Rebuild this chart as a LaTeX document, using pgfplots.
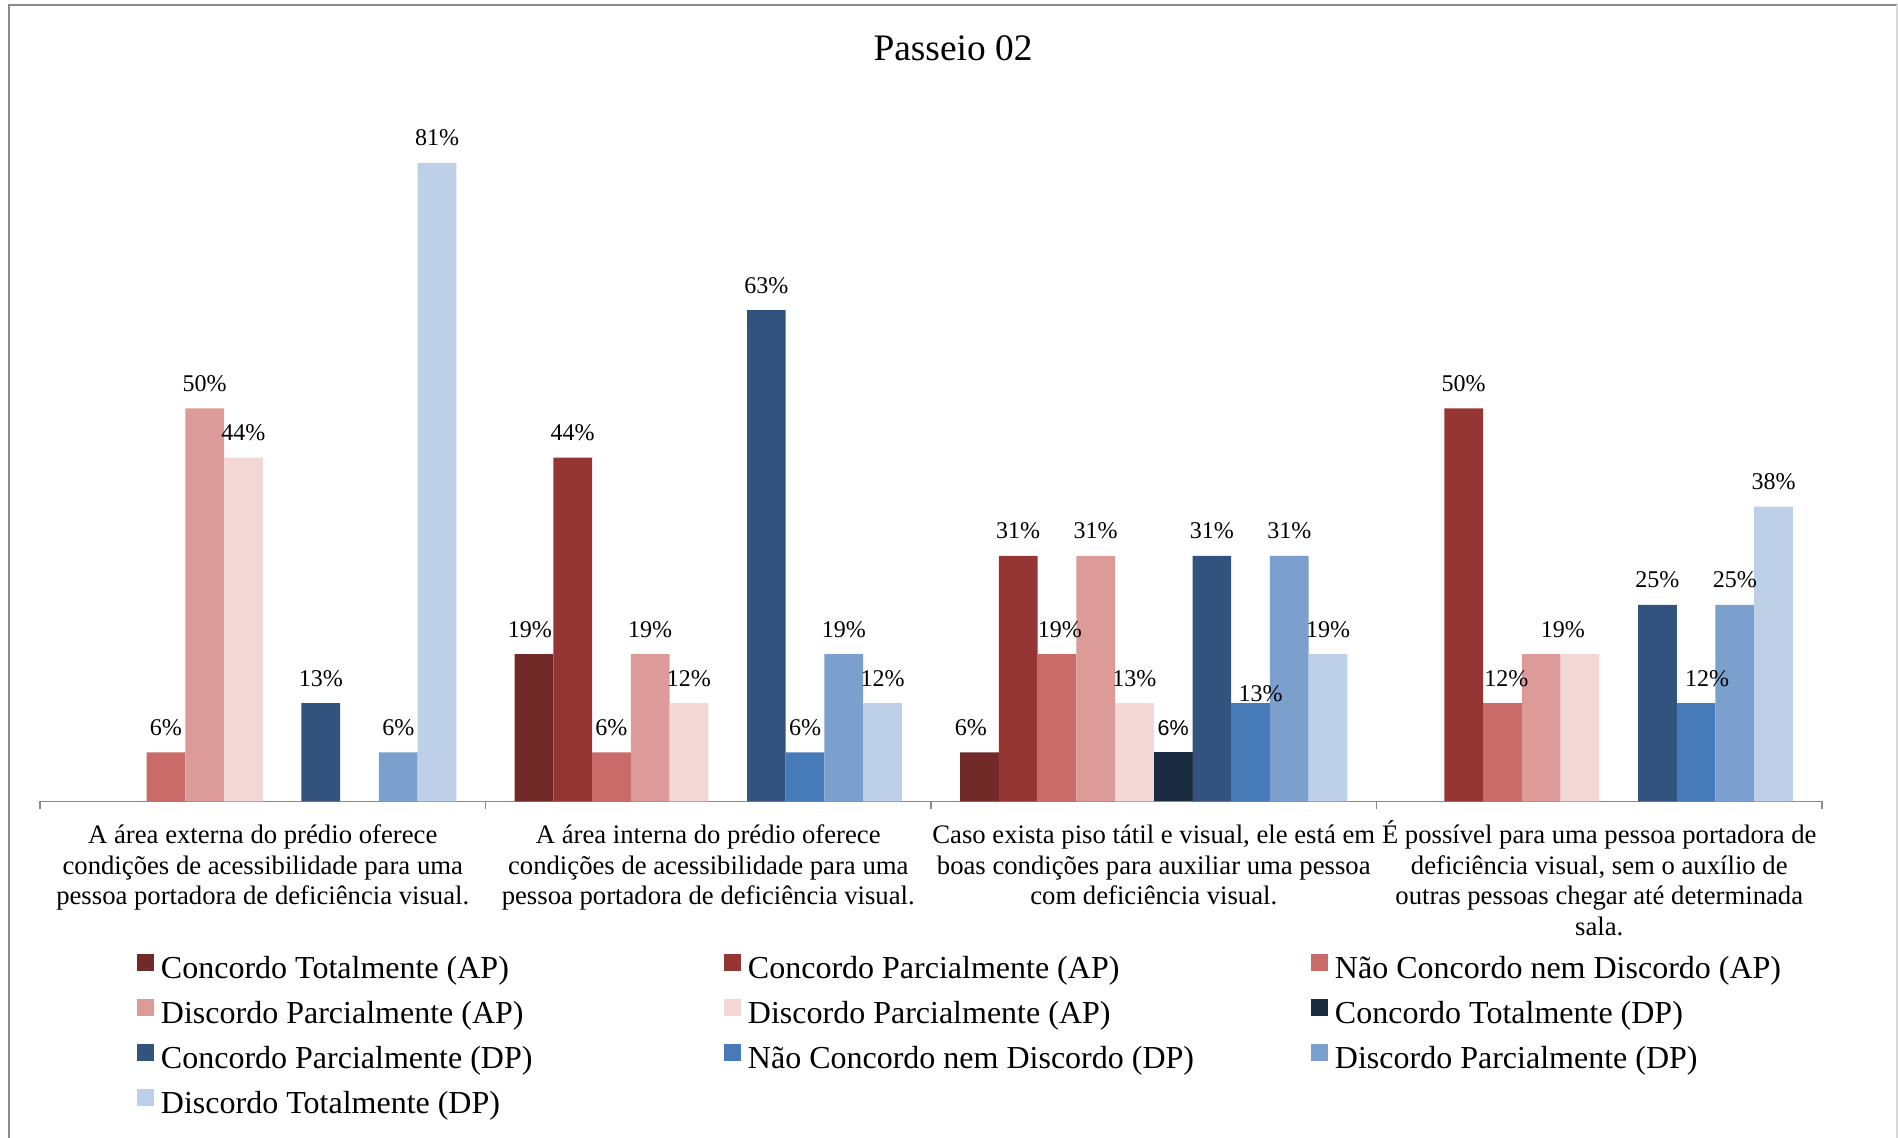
\documentclass[border=0pt]{standalone}
\usepackage{fontspec}
\setmainfont{Liberation Serif}
\newfontfamily\sansfont{Liberation Sans}
\usepackage{pgfplots}
\pgfplotsset{compat=1.18}

\definecolor{c1}{HTML}{722A29}
\definecolor{c2}{HTML}{963634}
\definecolor{c3}{HTML}{C96B69}
\definecolor{c4}{HTML}{DC9A98}
\definecolor{c5}{HTML}{F2D7D6}
\definecolor{c6}{HTML}{1A2A40}
\definecolor{c7}{HTML}{31537D}
\definecolor{c8}{HTML}{467AB9}
\definecolor{c9}{HTML}{7BA0CD}
\definecolor{c10}{HTML}{BDD0E8}
\definecolor{axgray}{HTML}{8A8A8A}

\protected\def\sanssix{{\sansfont\fontsize{10.75}{12}\selectfont 6\%}}
\protected\def\oddthirteen{\raisebox{-7.7pt}[0pt][0pt]{\hspace*{10pt}13\%}}
\protected\def\nolabel{}
\protected\def\shl#1#2{#2\hspace*{#1}}
\protected\def\shr#1#2{\hspace*{#1}#2}

\begin{document}
\begin{tikzpicture}
\useasboundingbox (0,0) rectangle (949pt,568.5pt);
\begin{axis}[
  at={(20pt,167.8pt)}, anchor=south west,
  scale only axis, width=891pt, height=393pt,
  xmin=-0.5, xmax=3.5, ymin=0, ymax=100,
  ybar=0pt, bar width=19.37pt,
  axis x line=bottom, axis y line=none,
  x axis line style={-, draw=axgray, line width=0.6pt},
  xtick={0,1,2,3},
  major tick length=0pt,
  minor xtick={-0.5,0.5,1.5,2.5,3.5},
  minor tick length=4pt,
  tick align=outside,
  minor tick style={draw=axgray, line width=0.6pt},
  xticklabels={
    {\rule{0pt}{13pt}A área externa do prédio oferece\\condições de acessibilidade para uma\\pessoa portadora de deficiência visual.},
    {\rule{0pt}{13pt}A área interna do prédio oferece\\condições de acessibilidade para uma\\pessoa portadora de deficiência visual.},
    {\rule{0pt}{13pt}Caso exista piso tátil e visual, ele está em\\boas condições para auxiliar uma pessoa\\com deficiência visual.},
    {\rule{0pt}{13pt}É possível para uma pessoa portadora de\\deficiência visual, sem o auxílio de\\outras pessoas chegar até determinada\\sala.}
  },
  xticklabel style={align=center, font=\fontsize{13.35}{15.2}\selectfont, anchor=north, inner sep=0pt, yshift=-8pt},
  clip=false,
  point meta=explicit symbolic,
  nodes near coords={\pgfplotspointmeta},
  every node near coord/.append style={font=\fontsize{12}{14}\selectfont, anchor=base, inner sep=0pt, yshift=8.5pt},
  legend columns=3,
  legend image code/.code={\fill[#1, draw=none] (0pt,0pt) rectangle (8.5pt,8.5pt);},
  legend style={at={(0.05443,-0.19415)}, anchor=north west, draw=none, fill=none,
    inner sep=0pt, outer sep=0pt, row sep=6.7pt,
    font=\fontsize{16}{19}\selectfont,
    /tikz/every odd column/.append style={column sep=3.5pt},
    nodes={inner sep=0pt, outer sep=0pt, text height=11pt, text depth=3.5pt}},
]
\addplot[fill=c1, draw=none] coordinates {(1,18.75) [\shl{4pt}{19\%}] (2,6.25) [\shl{8.5pt}{6\%}]};
\addlegendentry{\makebox[281.5pt][l]{Concordo Totalmente (AP)}}
\addplot[fill=c2, draw=none] coordinates {(1,43.75) [44\%] (2,31.25) [31\%] (3,50) [50\%]};
\addlegendentry{\makebox[281.5pt][l]{Concordo Parcialmente (AP)}}
\addplot[fill=c3, draw=none] coordinates {(0,6.25) [6\%] (1,6.25) [6\%] (2,18.75) [\shr{3pt}{19\%}] (3,12.5) [\shr{4pt}{12\%}]};
\addlegendentry{\makebox[281.5pt][l]{Não Concordo nem Discordo (AP)}}
\addplot[fill=c4, draw=none] coordinates {(0,50) [50\%] (1,18.75) [19\%] (2,31.25) [31\%] (3,18.75) [\nolabel]};
\addlegendentry{\makebox[281.5pt][l]{Discordo Parcialmente (AP)}}
\addplot[fill=c5, draw=none] coordinates {(0,43.75) [44\%] (1,12.5) [12\%] (2,12.5) [13\%] (3,18.75) [\shl{17pt}{19\%}]};
\addlegendentry{\makebox[281.5pt][l]{Discordo Parcialmente (AP)}}
\addplot[fill=c6, draw=none] coordinates {(2,6.25) [\sanssix]};
\addlegendentry{\makebox[281.5pt][l]{Concordo Totalmente (DP)}}
\addplot[fill=c7, draw=none] coordinates {(0,12.5) [13\%] (1,62.5) [63\%] (2,31.25) [31\%] (3,25) [25\%]};
\addlegendentry{\makebox[281.5pt][l]{Concordo Parcialmente (DP)}}
\addplot[fill=c8, draw=none] coordinates {(1,6.25) [6\%] (2,12.5) [\oddthirteen] (3,12.5) [\shr{11pt}{12\%}]};
\addlegendentry{\makebox[281.5pt][l]{Não Concordo nem Discordo (DP)}}
\addplot[fill=c9, draw=none] coordinates {(0,6.25) [6\%] (1,18.75) [19\%] (2,31.25) [31\%] (3,25) [25\%]};
\addlegendentry{\makebox[281.5pt][l]{Discordo Parcialmente (DP)}}
\addplot[fill=c10, draw=none] coordinates {(0,81.25) [81\%] (1,12.5) [12\%] (2,18.75) [19\%] (3,37.5) [38\%]};
\addlegendentry{\makebox[281.5pt][l]{Discordo Totalmente (DP)}}
\end{axis}
\node[anchor=base, font=\fontsize{18.7}{22}\selectfont, inner sep=0pt] at (476.5pt,538.25pt) {Passeio 02};
\draw[axgray, line width=1pt] (4.25pt,-2pt) -- (4.25pt,565.75pt) -- (948.6pt,565.75pt);
\draw[gray!30, line width=0.8pt] (948.6pt,565.75pt) -- (948.6pt,-2pt);
\end{tikzpicture}
\end{document}
